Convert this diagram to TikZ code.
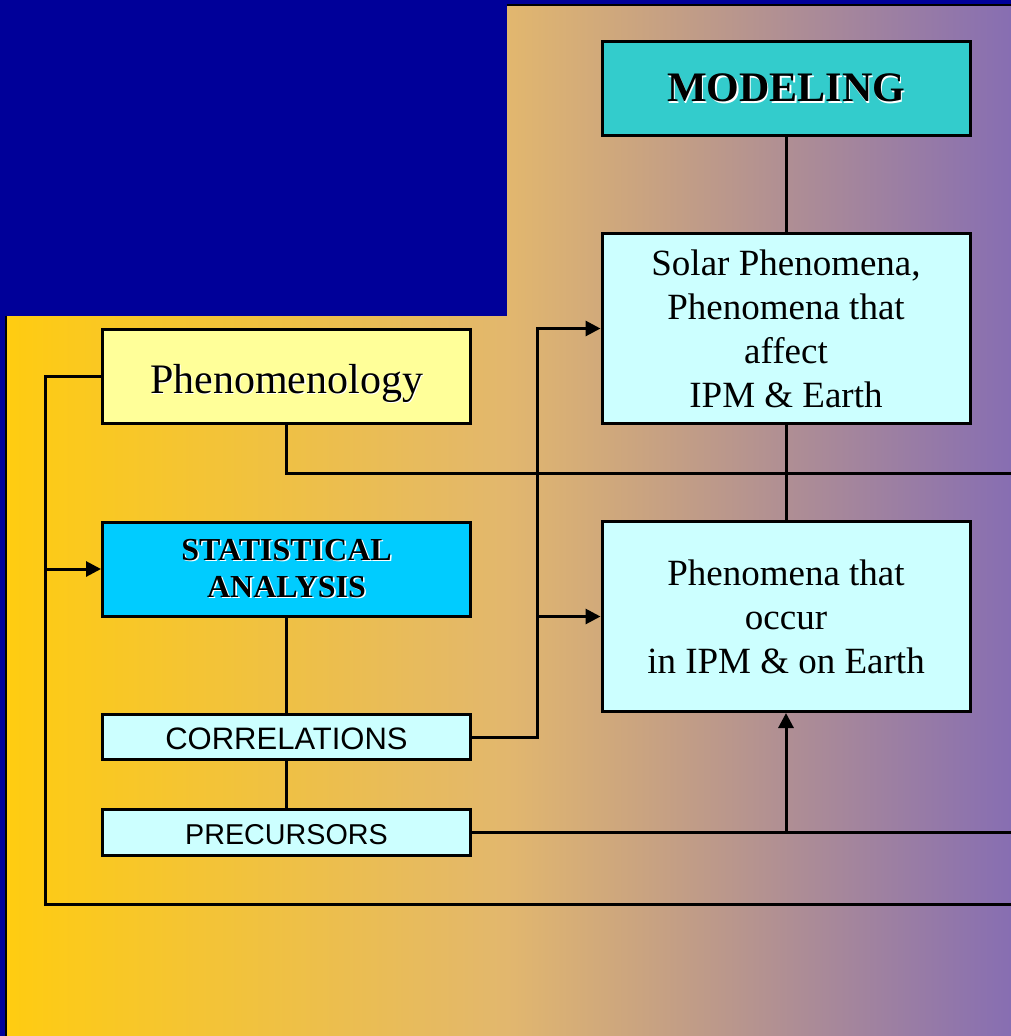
\documentclass[tikz,border=0pt]{standalone}
\usepackage{fontspec}
\setmainfont{Liberation Serif}
\setsansfont{Liberation Sans}
\usetikzlibrary{arrows.meta}
\definecolor{bgblue}{RGB}{0,0,153}
\definecolor{gA}{RGB}{255,204,17}
\definecolor{gB}{RGB}{226,183,110}
\definecolor{gC}{RGB}{135,110,178}
\definecolor{modfill}{RGB}{51,204,204}
\definecolor{lcyan}{RGB}{204,255,255}
\definecolor{lyellow}{RGB}{255,255,153}
\definecolor{statfill}{RGB}{0,204,255}
\newcommand\shd[1]{\leavevmode\rlap{\hspace{1.6pt}\raisebox{-1.6pt}{\color{white}#1}}#1}
\tikzset{
  box/.style={draw=black, line width=3pt, inner sep=0pt, align=center, text=black},
  conn/.style={draw=black, line width=3pt},
  arr/.style={conn, -{Triangle[length=15pt,width=15pt]}},
}
\begin{document}
\begin{tikzpicture}[x=1pt,y=-1pt]
\useasboundingbox (0,0) rectangle (1011,1036);
% background
\fill[bgblue] (0,0) rectangle (1011,1036);
\shade[left color=gA, right color=gB] (7,5) rectangle (508,1036);
\shade[left color=gB, right color=gC] (507,5) rectangle (1011,1036);
\fill[bgblue] (0,0) rectangle (507,316);
\draw[black, line width=2pt] (507,5) -- (1011,5);
\draw[black, line width=2pt] (6,316) -- (6,1036);
% nodes
\node[box, fill=modfill, minimum width=368pt, minimum height=94pt,
  font=\fontsize{42}{48}\selectfont\bfseries] (mod) at (786,88.5)
  {\shd{MODELING}};
\node[box, fill=lcyan, minimum width=368pt, minimum height=190pt,
  font=\fontsize{37}{44}\selectfont] (sol) at (786,328.5)
  {\raisebox{-3pt}{Solar Phenomena,}\\\raisebox{-3pt}{Phenomena that}\\\raisebox{-3pt}{affect}\\\raisebox{-3pt}{IPM \& Earth}};
\node[box, fill=lcyan, minimum width=368pt, minimum height=190pt,
  font=\fontsize{37}{44}\selectfont] (occ) at (786,616.5)
  {\raisebox{-2pt}{Phenomena that}\\\raisebox{-2pt}{occur}\\\raisebox{-2pt}{in IPM \& on Earth}};
\node[box, fill=lyellow, minimum width=368pt, minimum height=94pt,
  font=\fontsize{42}{48}\selectfont, text height=33pt, text depth=0pt] (phen) at (286.5,376.5)
  {\shd{Phenomenology}};
\node[box, fill=statfill, minimum width=368pt, minimum height=94pt,
  font=\fontsize{32}{37}\selectfont\bfseries] (stat) at (286.5,569)
  {\shd{STATISTICAL}\\\shd{ANALYSIS}};
\node[box, fill=lcyan, minimum width=368pt, minimum height=45pt,
  font=\fontsize{31}{35}\selectfont\sffamily, text height=25pt, text depth=0pt] (cor) at (286.5,737)
  {CORRELATIONS};
\node[box, fill=lcyan, minimum width=368pt, minimum height=46pt,
  font=\fontsize{28.7}{33}\selectfont\sffamily, text height=23pt, text depth=0pt] (pre) at (286.5,832.5)
  {PRECURSORS};
% coordinates
\coordinate (r1) at (1011,473);
\coordinate (lc) at (45,904);
\coordinate (r2) at (1011,904);
\coordinate (cx) at (537,737);
\coordinate (r3) at (1011,832.5);
% connectors
\draw[conn] (mod.south) -- (sol.north);
\draw[conn] (sol.south) -- (occ.north);
\draw[conn] (phen.south) |- (r1);
\draw[conn] (phen.west) -| (lc) -- (r2);
\draw[arr] (stat.west -| lc) -- (stat.west);
\draw[conn] (stat.south) -- (cor.north);
\draw[conn] (cor.south) -- (pre.north);
\draw[arr] (cor.east) -- (cx) |- (sol.west);
\draw[arr] (cx |- occ.west) -- (occ.west);
\draw[conn] (pre.east) -- (r3);
\draw[arr] (pre.east -| occ.south) -- (occ.south);
\end{tikzpicture}
\end{document}
